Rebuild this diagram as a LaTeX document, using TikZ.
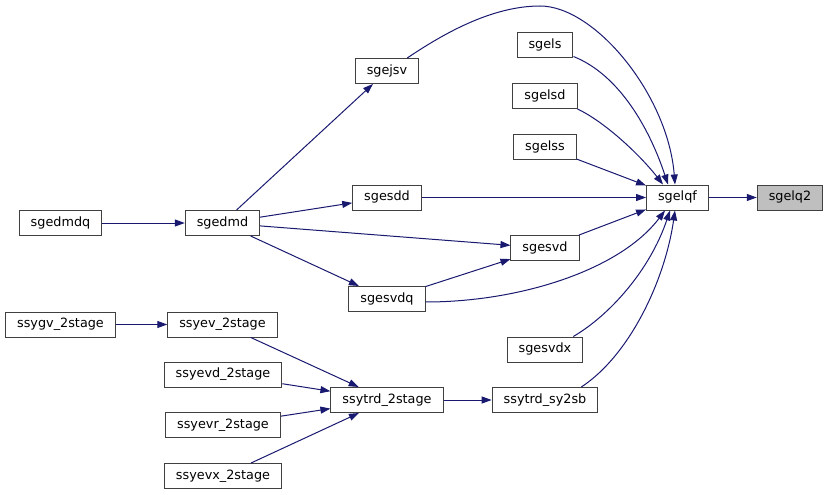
\documentclass[tikz,border=0pt]{standalone}
\usepackage{fontspec}
\setmainfont{DejaVu Sans}
\usetikzlibrary{arrows.meta}
\definecolor{edgeblue}{HTML}{191970}
\definecolor{boxline}{HTML}{404040}
\definecolor{boxhl}{HTML}{BFBFBF}
\begin{document}
\begin{tikzpicture}[x=1pt, y=-1pt,
  every node/.style={font=\fontsize{12.8}{15}\selectfont},
  fnbox/.style={draw=boxline, fill=white, line width=1pt, minimum height=25pt,
    inner xsep=11.5pt, inner ysep=0pt, text height=9.5pt, text depth=2.7pt},
  fnhl/.style={fnbox, fill=boxhl},
  call/.style={draw=edgeblue, line width=1pt, -{Triangle[length=10pt,width=7pt]}}]
  \useasboundingbox (0,0) rectangle (828,495);

  % functions
  \node[fnhl]  (sgelq2)  at (790,197.5) {sgelq2};
  \node[fnbox] (sgelqf)  at (677.5,197.5) {sgelqf};
  \node[fnbox] (sgejsv)  at (387,71) {sgejsv};
  \node[fnbox] (sgels)   at (545,45.5) {sgels};
  \node[fnbox] (sgelsd)  at (545,96) {sgelsd};
  \node[fnbox] (sgelss)  at (545,147) {sgelss};
  \node[fnbox] (sgesdd)  at (387,197.5) {sgesdd};
  \node[fnbox] (sgesvd)  at (545,248) {sgesvd};
  \node[fnbox] (sgesvdq) at (387,299) {sgesvdq};
  \node[fnbox] (sgesvdx) at (545,349.5) {sgesvdx};
  \node[fnbox] (sy2sb)   at (545,400) {ssytrd\_sy2sb};
  \node[fnbox] (trd2st)  at (387,400) {ssytrd\_2stage};
  \node[fnbox] (sgedmd)  at (222.5,223) {sgedmd};
  \node[fnbox] (sgedmdq) at (60.5,223) {sgedmdq};
  \node[fnbox] (syev)    at (222.5,324.5) {ssyev\_2stage};
  \node[fnbox] (syevd)   at (223,374.5) {ssyevd\_2stage};
  \node[fnbox] (syevr)   at (223,425) {ssyevr\_2stage};
  \node[fnbox] (syevx)   at (223,476) {ssyevx\_2stage};
  \node[fnbox] (sygv)    at (60.5,324.5) {ssygv\_2stage};

  % calls into sgelqf
  \draw[call] (sgelqf) -- (sgelq2);
  \draw[call] ([xshift=-12pt]sgejsv.north east) .. controls (440,36) and (490,6) .. (540,6)
    .. controls (595,6) and (668,95) .. ([xshift=-2.5pt]sgelqf.north);
  \draw[call] ([yshift=2pt]sgels.south east) .. controls (620,75) and (650,130) .. ([xshift=-9.5pt]sgelqf.north);
  \draw[call] (sgelsd.south east) .. controls (605,122) and (640,155) .. ([xshift=-14.5pt]sgelqf.north);
  \draw[call] (sgelss) -- (sgelqf);
  \draw[call] (sgesdd) -- (sgelqf);
  \draw[call] (sgesvd) -- (sgelqf);
  \draw[call] ([yshift=-3pt]sgesvdq.east) .. controls (520,302) and (620,270) .. ([xshift=-12.5pt]sgelqf.south);
  \draw[call] ([xshift=-10pt]sgesvdx.north east) .. controls (610,315) and (650,270) .. ([xshift=-7.5pt]sgelqf.south);
  \draw[call] ([xshift=-17pt]sy2sb.north east) .. controls (630,355) and (665,280) .. ([xshift=-2.5pt]sgelqf.south);

  % sgedmd family
  \draw[call] (sgedmdq) -- (sgedmd);
  \draw[call] (sgedmd) -- (sgejsv);
  \draw[call] (sgedmd) -- (sgesdd);
  \draw[call] (sgedmd) -- (sgesvd);
  \draw[call] (sgedmd) -- (sgesvdq);
  \draw[call] (sgesvdq) -- (sgesvd);

  % 2stage family
  \draw[call] (sygv) -- (syev);
  \draw[call] (syev) -- (trd2st);
  \draw[call] (syevd) -- (trd2st);
  \draw[call] (syevr) -- (trd2st);
  \draw[call] (syevx) -- (trd2st);
  \draw[call] (trd2st) -- (sy2sb);
\end{tikzpicture}
\end{document}
